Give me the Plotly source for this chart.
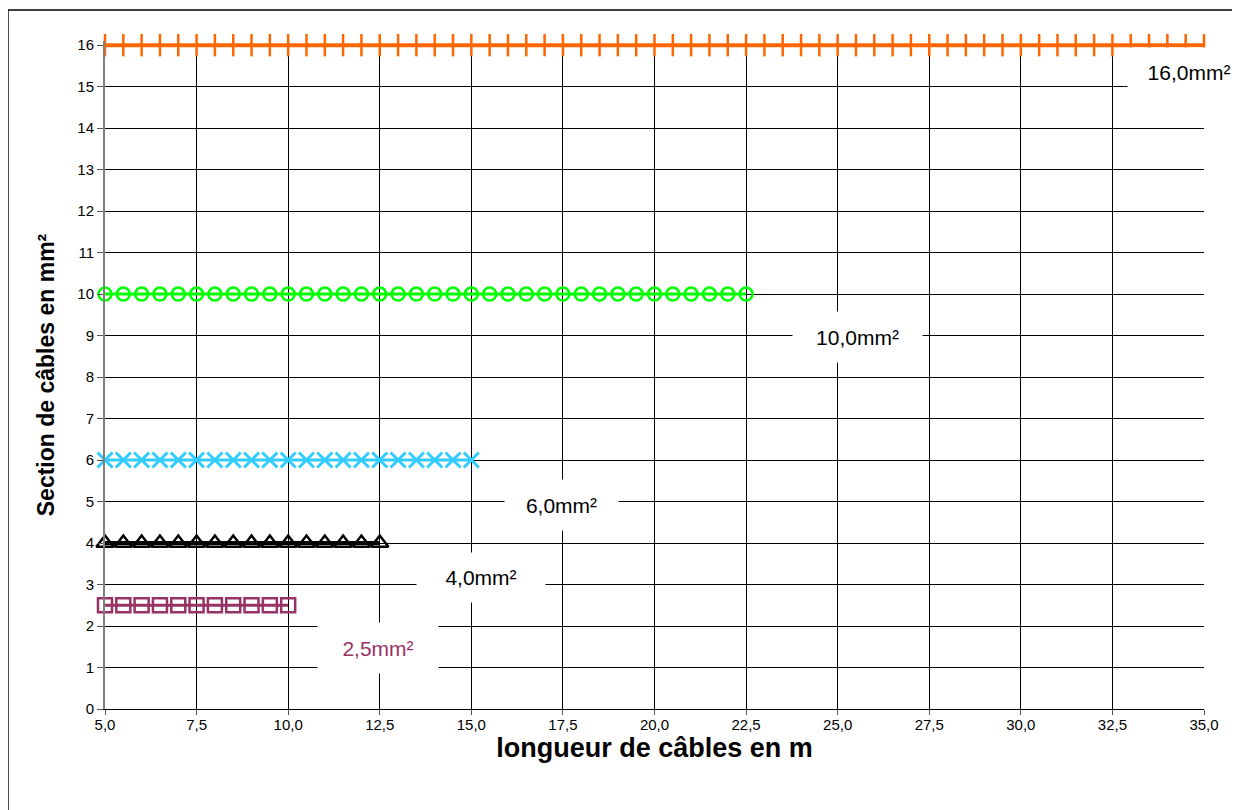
import plotly.graph_objects as go

# Data
step = 0.5
series_names = ["2,5mm²", "4,0mm²", "6,0mm²", "10,0mm²", "16,0mm²"]
sections = [2.5, 4.0, 6.0, 10.0, 16.0]
x_start = [5.0, 5.0, 5.0, 5.0, 5.0]
x_end = [10.0, 12.5, 15.0, 22.5, 35.0]
colors = ["#993366", "#000000", "#33CCFF", "#00FF00", "#FF6600"]
symbols = ["square-open", "triangle-up-open", "x-thin-open", "circle-open", "line-ns-open"]
label_x = [12.45, 15.27, 17.46, 25.54, 34.59]
label_y = [1.47, 3.17, 4.92, 8.96, 15.35]
label_colors = ["#993366", "#000000", "#000000", "#000000", "#000000"]

x_ticks = [5.0 + 2.5 * i for i in range(13)]
x_tick_text = [f"{v:.1f}".replace(".", ",") for v in x_ticks]
y_ticks = list(range(0, 17))

fig = go.Figure()
sizes = [14, 15, 15, 13, 16]
mlw = [2.5, 2.5, 3, 2.5, 2.5]
lw = [3, 4, 3, 3, 4]
for name, s, xs, xe, c, sym, sz, mw, w in zip(series_names, sections, x_start, x_end, colors, symbols, sizes, mlw, lw):
    n = int(round((xe - xs) / step)) + 1
    xs_arr = [xs + i * step for i in range(n)]
    ys_arr = [s] * n
    fig.add_trace(go.Scatter(
        x=xs_arr, y=ys_arr, mode="lines+markers", name=name,
        line=dict(color=c, width=w),
        marker=dict(symbol=sym, size=sz, color=c, line=dict(color=c, width=mw)),
        cliponaxis=False, showlegend=False,
    ))

box_w = [120, 128, 113, 129, 122]
box_h = [50, 49, 50, 50, 48]
for name, lx, ly, lc, bw, bh in zip(series_names, label_x, label_y, label_colors, box_w, box_h):
    fig.add_annotation(
        x=lx, y=ly, text=name, showarrow=False,
        font=dict(family="Arial, Liberation Sans", size=21, color=lc),
        bgcolor="white", borderpad=0, width=bw, height=bh,
    )

# outer frame
fig.add_shape(type="rect", xref="paper", yref="paper",
              x0=-0.0883, y0=-0.3, x1=1.1, y1=1.0464,
              line=dict(color="black", width=1.5), layer="below")

fig.update_layout(
    width=1240, height=810,
    margin=dict(l=97, r=44, t=33, b=109),
    paper_bgcolor="white", plot_bgcolor="white",
    font=dict(family="Arial, Liberation Sans", color="black"),
    xaxis=dict(
        range=[5, 35], tickvals=x_ticks, ticktext=x_tick_text,
        showgrid=True, gridcolor="black", gridwidth=1,
        showline=True, linecolor="black", linewidth=1,
        ticks="outside", ticklen=5, tickcolor="#555555",
        ticklabelstandoff=-3,
        tickfont=dict(size=15), zeroline=False,
        title=dict(text="<b>longueur de câbles en m</b>", font=dict(size=27), standoff=6),
    ),
    yaxis=dict(
        range=[0, 16.1], tickvals=y_ticks,
        showgrid=True, gridcolor="black", gridwidth=1,
        showline=True, linecolor="#808080", linewidth=2,
        ticks="outside", ticklen=6, tickcolor="#555555",
        tickfont=dict(size=15), zeroline=False,
        title=dict(text="<b>Section de câbles en mm²</b>", font=dict(size=23), standoff=16),
    ),
)

fig.write_html("out.html")
